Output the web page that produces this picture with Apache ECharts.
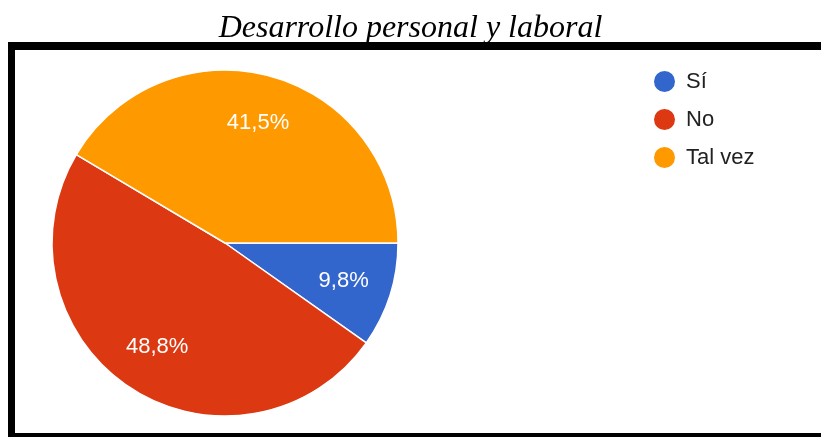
<!DOCTYPE html>
<html>
<head>
<meta charset="utf-8">
<script src="https://cdn.jsdelivr.net/npm/echarts@6/dist/echarts.min.js"></script>
<style>
  html, body { margin: 0; padding: 0; background: #fff; }
  #chart { width: 821px; height: 437px; }
</style>
</head>
<body>
<div id="chart"></div>
<script>
// Survey answers and their shares (%)
const categories = ['Sí', 'No', 'Tal vez'];
const shares = [9.8, 48.8, 41.5];
const sliceColors = ['#3366cc', '#dc3912', '#ff9900'];
const titleText = 'Desarrollo personal y laboral';

const pieData = categories.map((name, i) => ({
  name: name,
  value: shares[i],
  itemStyle: { color: sliceColors[i] }
}));

const center = [225, 243];
const outerR = 173;

const chart = echarts.init(document.getElementById('chart'), null, { renderer: 'canvas' });

chart.setOption({
  animation: false,
  backgroundColor: '#ffffff',
  title: {
    text: titleText,
    left: 'center',
    top: 13,
    padding: 0,
    textStyle: {
      fontFamily: '"Liberation Serif", "Times New Roman", serif',
      fontStyle: 'italic',
      fontWeight: 'normal',
      fontSize: 32,
      color: '#000'
    }
  },
  legend: {
    orient: 'vertical',
    left: 652,
    top: 69,
    padding: 0,
    icon: 'circle',
    itemWidth: 23,
    itemHeight: 23,
    itemGap: 13,
    data: categories,
    textStyle: {
      fontFamily: '"Liberation Sans", Arial, sans-serif',
      fontSize: 22,
      color: '#222',
      padding: [0, 0, 0, 5]
    }
  },
  graphic: [
    // framing box around the plot area
    { type: 'rect', shape: { x: 8, y: 42, width: 830, height: 8 }, style: { fill: '#000' }, silent: true },
    { type: 'rect', shape: { x: 8, y: 42, width: 7, height: 395 }, style: { fill: '#000' }, silent: true },
    { type: 'rect', shape: { x: 8, y: 433, width: 830, height: 4 }, style: { fill: '#000' }, silent: true }
  ],
  series: [
    {
      type: 'pie',
      center: center,
      radius: [0, outerR],
      startAngle: 0,
      clockwise: true,
      data: pieData,
      label: { show: false },
      labelLine: { show: false },
      itemStyle: { borderColor: '#fff', borderWidth: 1.5 },
      emphasis: { disabled: true }
    },
    {
      // label ring: places the percentage text further out than the slice midpoint
      type: 'pie',
      center: center,
      radius: [70, outerR],
      startAngle: 0,
      clockwise: true,
      silent: true,
      data: pieData.map(d => ({ name: d.name, value: d.value, itemStyle: { color: 'rgba(0,0,0,0)' } })),
      label: {
        show: true,
        position: 'inside',
        formatter: p => String(p.value).replace('.', ',') + '%',
        color: '#fff',
        fontFamily: '"Liberation Sans", Arial, sans-serif',
        fontSize: 22
      },
      labelLine: { show: false },
      emphasis: { disabled: true },
      tooltip: { show: false }
    }
  ]
});
</script>
</body>
</html>
